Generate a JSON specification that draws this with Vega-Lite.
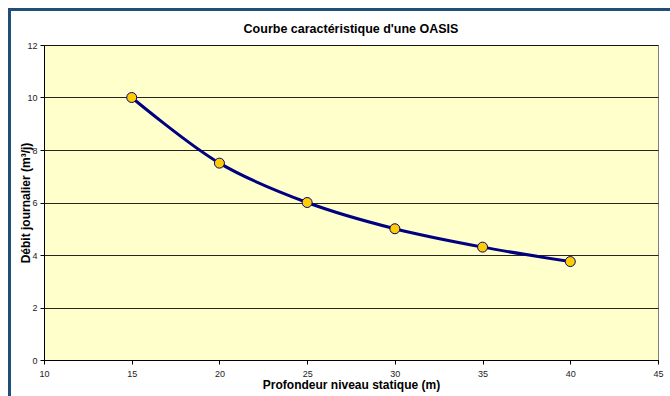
{
  "$schema": "https://vega.github.io/schema/vega-lite/v6.json",
  "autosize": "none",
  "width": 614,
  "height": 315,
  "padding": {"left": 44, "top": 45, "right": 12, "bottom": 36},
  "background": "white",
  "config": {
    "font": "Liberation Sans",
    "view": {"fill": "#FFFFCC", "stroke": "#808080", "strokeWidth": 1},
    "axis": {
      "labelFont": "Liberation Sans",
      "labelFontSize": 9,
      "labelColor": "#222222",
      "titleFont": "Liberation Sans",
      "titleFontWeight": "bold",
      "titleFontSize": 12,
      "titleColor": "#000000",
      "domainColor": "#000000",
      "tickColor": "#000000",
      "tickSize": 4,
      "gridColor": "#000000",
      "gridOpacity": 0.85,
      "gridWidth": 1
    }
  },
  "title": {
    "text": "Courbe caractéristique d'une OASIS",
    "font": "Liberation Sans",
    "fontSize": 12.5,
    "fontWeight": "bold",
    "color": "#000000",
    "anchor": "middle",
    "offset": 10,
    "dy": 37
  },
  "data": {
    "values": [
      {"profondeur": 15, "debit": 10},
      {"profondeur": 20, "debit": 7.5},
      {"profondeur": 25, "debit": 6},
      {"profondeur": 30, "debit": 5},
      {"profondeur": 35, "debit": 4.3},
      {"profondeur": 40, "debit": 3.75}
    ]
  },
  "layer": [
    {
      "mark": {"type": "line", "color": "#000080", "strokeWidth": 3, "interpolate": "catmull-rom"},
      "encoding": {
        "x": {
          "field": "profondeur", "type": "quantitative",
          "scale": {"domain": [10, 45], "nice": false, "zero": false},
          "axis": {"values": [10, 15, 20, 25, 30, 35, 40, 45], "grid": false, "title": "Profondeur niveau statique (m)", "labelPadding": 5, "titlePadding": 1, "labelFlush": false}
        },
        "y": {
          "field": "debit", "type": "quantitative",
          "scale": {"domain": [0, 12], "nice": false},
          "axis": {"values": [0, 2, 4, 6, 8, 10, 12], "grid": true, "title": "Débit journalier (m³/j)", "labelPadding": 3, "titlePadding": -6}
        }
      }
    },
    {
      "mark": {"type": "point", "filled": true, "fill": "#FFCC00", "stroke": "#000080", "strokeWidth": 1, "size": 100, "opacity": 1, "shape": "circle"},
      "encoding": {
        "x": {"field": "profondeur", "type": "quantitative"},
        "y": {"field": "debit", "type": "quantitative"}
      }
    },
    {
      "mark": {"type": "rect", "fill": null, "stroke": "#1F4E79", "strokeWidth": 2.5, "clip": false},
      "encoding": {
        "x": {"datum": 8.02},
        "x2": {"datum": 46.2},
        "y": {"datum": 13.36},
        "y2": {"datum": -1.8}
      }
    }
  ]
}
